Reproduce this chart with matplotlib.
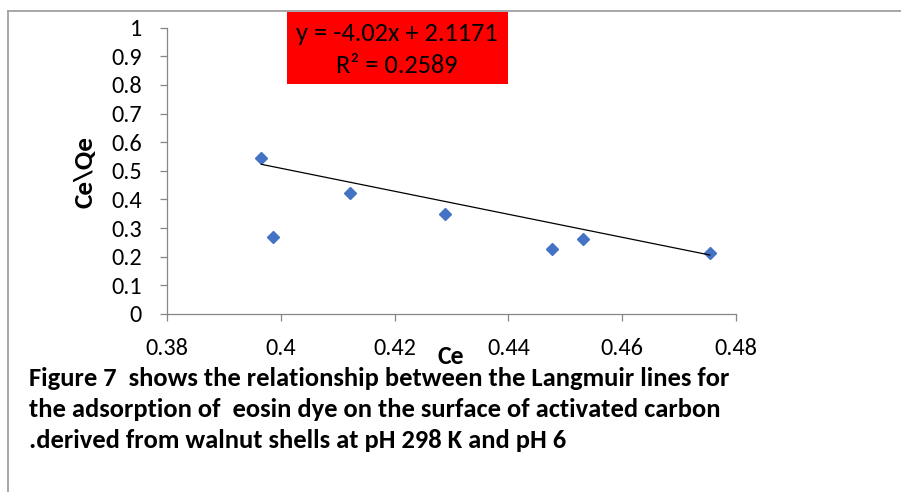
import matplotlib
matplotlib.use('Agg')
import matplotlib.pyplot as plt
from matplotlib import font_manager as fm
from matplotlib.lines import Line2D
from matplotlib.patches import Rectangle

# ---------------- data ----------------
ce = [0.3966, 0.3986, 0.4121, 0.4288, 0.4477, 0.4531, 0.4754]
ce_qe = [0.544, 0.269, 0.421, 0.349, 0.226, 0.263, 0.214]
slope = -4.02
intercept = 2.1171
r2 = 0.2589
x_ticks = [0.38, 0.40, 0.42, 0.44, 0.46, 0.48]
x_tick_labels = ['0.38', '0.4', '0.42', '0.44', '0.46', '0.48']
y_ticks = [0, 0.1, 0.2, 0.3, 0.4, 0.5, 0.6, 0.7, 0.8, 0.9, 1.0]
y_tick_labels = ['0', '0.1', '0.2', '0.3', '0.4', '0.5', '0.6', '0.7', '0.8', '0.9', '1']
x_label = 'Ce'
y_label = 'Ce\\Qe'
caption_lines = [
    'Figure 7  shows the relationship between the Langmuir lines for',
    'the adsorption of  eosin dye on the surface of activated carbon',
    '.derived from walnut shells at pH 298 K and pH 6',
]

# ---------------- fonts ----------------
names = {f.name for f in fm.fontManager.ttflist}


def pick(*cands):
    for n in cands:
        if n in names:
            return n
    return 'DejaVu Sans'


FONT = pick('Carlito', 'Liberation Sans Narrow', 'Open Sans', 'Liberation Sans')
plt.rcParams['font.family'] = [FONT, 'DejaVu Sans']

W, H = 901, 492
fig = plt.figure(figsize=(W / 100, H / 100), dpi=100)
fig.patch.set_facecolor('white')


def fx(px):
    return px / W


def fy(py):
    return 1 - py / H


# ---------------- axes ----------------
ax = fig.add_axes([fx(167), fy(314), fx(736) - fx(167), fy(27.7) - fy(314)])
ax.set_xlim(0.38, 0.48)
ax.set_ylim(0, 1)
ax.plot(ce, ce_qe, linestyle='none', marker='D', ms=6.6,
        color='#4472C4', mec='#4472C4', zorder=2, clip_on=False)
xs = [min(ce), max(ce)]
ax.plot(xs, [slope * x + intercept for x in xs], color='black', lw=0.9, zorder=3)

ax.set_xticks(x_ticks)
ax.set_xticklabels(x_tick_labels)
ax.set_yticks(y_ticks)
ax.set_yticklabels(y_tick_labels)
for s in ['top', 'right']:
    ax.spines[s].set_visible(False)
for s in ['left', 'bottom']:
    ax.spines[s].set_color('#868686')
    ax.spines[s].set_linewidth(0.9)
ax.tick_params(axis='both', direction='out', length=5, width=0.9,
               color='#868686', labelsize=17.5, labelcolor='black')
ax.tick_params(axis='y', pad=13)
ax.tick_params(axis='x', pad=12)

# axis titles
fig.text(fx(85), fy(172), y_label, rotation=90, ha='center', va='center',
         fontsize=19.5, fontweight='bold')
fig.text(fx(451), fy(357), x_label, ha='center', va='center',
         fontsize=18.5, fontweight='bold')

# ---------------- equation box ----------------
fig.patches.append(Rectangle((fx(287), fy(84)), fx(508) - fx(287), fy(12) - fy(84),
                             transform=fig.transFigure, figure=fig,
                             facecolor='#FF0000', edgecolor='none', zorder=5))
eq1 = fig.text(fx(397), fy(41), f'y = {slope}x + {intercept}', ha='center',
               va='baseline', fontsize=17, zorder=6)
eq2 = fig.text(fx(397), fy(73), f'R² = {r2}', ha='center', va='baseline',
               fontsize=17, zorder=6)

# ---------------- caption ----------------
cap = []
for i, line in enumerate(caption_lines):
    cap.append(fig.text(fx(29), fy(386 + 31 * i), line, ha='left', va='baseline',
                        fontsize=15, fontweight='bold'))

# fit text widths to the reference
fig.canvas.draw()
r = fig.canvas.get_renderer()
w = cap[0].get_window_extent(r).width
fs = 15 * 702 / w
for t in cap:
    t.set_fontsize(fs)
w = eq1.get_window_extent(r).width
fs2 = 17 * 203 / w
eq1.set_fontsize(fs2)
eq2.set_fontsize(fs2)

# ---------------- page borders ----------------
fig.add_artist(Line2D([fx(8), 1], [fy(11), fy(11)], transform=fig.transFigure,
                      color='#A0A0A0', lw=1.3))
fig.add_artist(Line2D([fx(8), fx(8)], [0, fy(11)], transform=fig.transFigure,
                      color='#A0A0A0', lw=1.3))

fig.savefig('out.png', dpi=100, facecolor='white')
